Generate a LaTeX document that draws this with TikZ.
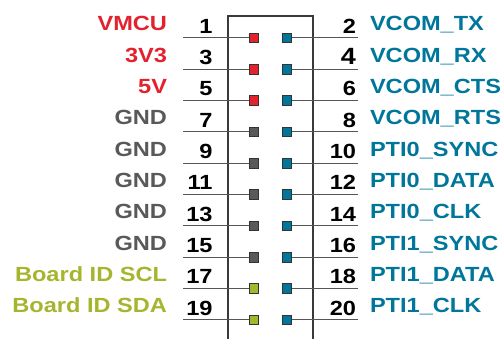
\documentclass[tikz,border=0pt]{standalone}
\usepackage{fontspec}
\setmainfont{Liberation Sans}[FakeStretch=1.15]
\definecolor{pinred}{HTML}{E2232E}
\definecolor{pingray}{HTML}{595959}
\definecolor{pinolive}{HTML}{A5B52D}
\definecolor{pinteal}{HTML}{00779A}
\definecolor{padedge}{HTML}{333333}
\definecolor{wiregray}{HTML}{555555}
\definecolor{bodygray}{HTML}{3A3A3A}
\tikzset{
  lbl/.style={font=\fontsize{20.5}{24}\selectfont\bfseries, inner sep=0pt, outer sep=0pt},
  num/.style={lbl, text=black, anchor=base east},
  pad/.style={draw=padedge, line width=0.8pt, minimum size=9.6pt, inner sep=0pt},
  wire/.style={draw=wiregray, line width=1pt},
  body/.style={draw=bodygray, line width=1.3pt},
}
\begin{document}
\begin{tikzpicture}[x=1pt,y=-1pt]
\useasboundingbox (0,0) rectangle (503,339);
\draw[body] (228,340) -- (228,16) -- (313,16) -- (313,340);
\foreach \i/\l/\r/\lc/\rc in {
  0/VMCU/VCOM\_TX/pinred/pinteal,
  1/3V3/VCOM\_RX/pinred/pinteal,
  2/5V/VCOM\_CTS/pinred/pinteal,
  3/GND/VCOM\_RTS/pingray/pinteal,
  4/GND/PTI0\_SYNC/pingray/pinteal,
  5/GND/PTI0\_DATA/pingray/pinteal,
  6/GND/PTI0\_CLK/pingray/pinteal,
  7/GND/PTI1\_SYNC/pingray/pinteal,
  8/Board ID SCL/PTI1\_DATA/pinolive/pinteal,
  9/Board ID SDA/PTI1\_CLK/pinolive/pinteal}{
  \pgfmathsetmacro\yy{38+31.33*\i}
  \pgfmathtruncatemacro\ln{2*\i+1}
  \pgfmathtruncatemacro\rn{2*\i+2}
  \coordinate (la\i) at (183,\yy);
  \coordinate (rb\i) at (358,\yy);
  \node[pad, fill=\lc] (lp\i) at (253.7,\yy) {};
  \node[pad, fill=\rc] (rp\i) at (287,\yy) {};
  \draw[wire] (la\i) -- (lp\i);
  \draw[wire] (rp\i) -- (rb\i);
  \node[lbl, text=\lc, anchor=base east] (ll\i) at (167,\yy-7) {\l};
  \node[num] (ln\i) at (212.5,\yy-4.7) {\ln};
  \ifnum\rn=4
    \node[num, font=\fontsize{23.5}{26}\selectfont\bfseries] (rn\i) at (356,\yy-4.7) {\rn};
  \else
    \node[num] (rn\i) at (356,\yy-4.7) {\rn};
  \fi
  \node[lbl, text=\rc, anchor=base west] (rl\i) at (370,\yy-7) {\r};
}
\end{tikzpicture}
\end{document}
